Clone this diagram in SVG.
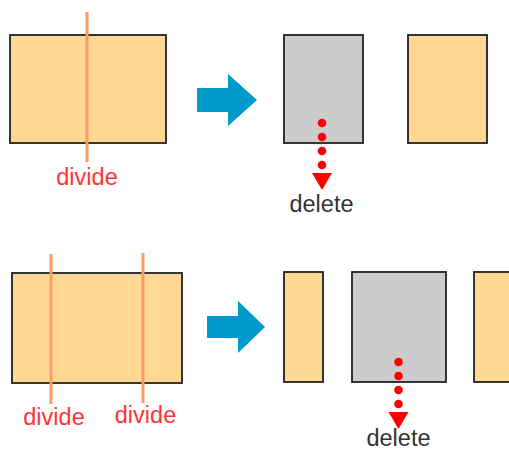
<svg xmlns="http://www.w3.org/2000/svg" width="509" height="452" viewBox="0 0 509 452">
<style>
.piece{fill:#FFD994;stroke:#222;stroke-width:1.8}
.del{fill:#CCCCCC;stroke:#222;stroke-width:1.8}
.cut{stroke:#FF9966;stroke-width:3}
.blue{fill:#0099CC}
.lbl{font-family:"Liberation Sans",Arial,sans-serif;font-size:23.5px;text-anchor:middle}
.red{fill:#FF3333}
.dark{fill:#333}
.dot{fill:#FF0000}
</style>
<defs>
<g id="delarrow">
<circle cx="0" cy="0" r="4.3" class="dot"/>
<circle cx="0" cy="14" r="4.3" class="dot"/>
<circle cx="0" cy="28" r="4.3" class="dot"/>
<circle cx="0" cy="42" r="4.3" class="dot"/>
<polygon points="-10,50 10,50 0,67" class="dot"/>
</g>
</defs>
<g id="top-source">
<rect x="10" y="35" width="156" height="108" class="piece"/>
<line x1="87" y1="12" x2="87" y2="162" class="cut"/>
<text x="87" y="185" class="lbl red">divide</text>
</g>
<g id="top-deleted">
<rect x="284" y="35" width="79" height="108" class="del"/>
</g>
<g id="top-kept">
<rect x="408" y="35" width="79" height="108" class="piece"/>
</g>
<g id="bottom-source">
<rect x="12" y="273" width="170" height="110" class="piece"/>
<line x1="51" y1="254" x2="51" y2="404" class="cut"/>
<line x1="143" y1="253" x2="143" y2="403" class="cut"/>
<text x="54" y="425" class="lbl red">divide</text>
<text x="145.5" y="423" class="lbl red">divide</text>
</g>
<g id="bottom-left">
<rect x="284" y="272" width="39" height="110" class="piece"/>
</g>
<g id="bottom-deleted">
<rect x="352" y="272" width="94" height="110" class="del"/>
</g>
<g id="bottom-right">
<rect x="474" y="272" width="50" height="110" class="piece"/>
</g>
<g id="connectors">
<polygon points="197,88 228,88 228,74 257,100 228,126 228,112 197,112" class="blue"/>
<polygon points="207,316 238,316 238,301 265,327 238,353 238,338 207,338" class="blue"/>
<use href="#delarrow" x="322" y="123"/>
<text x="321.5" y="212" class="lbl dark">delete</text>
<use href="#delarrow" x="398.5" y="362"/>
<text x="398.5" y="446" class="lbl dark">delete</text>
</g>
</svg>
